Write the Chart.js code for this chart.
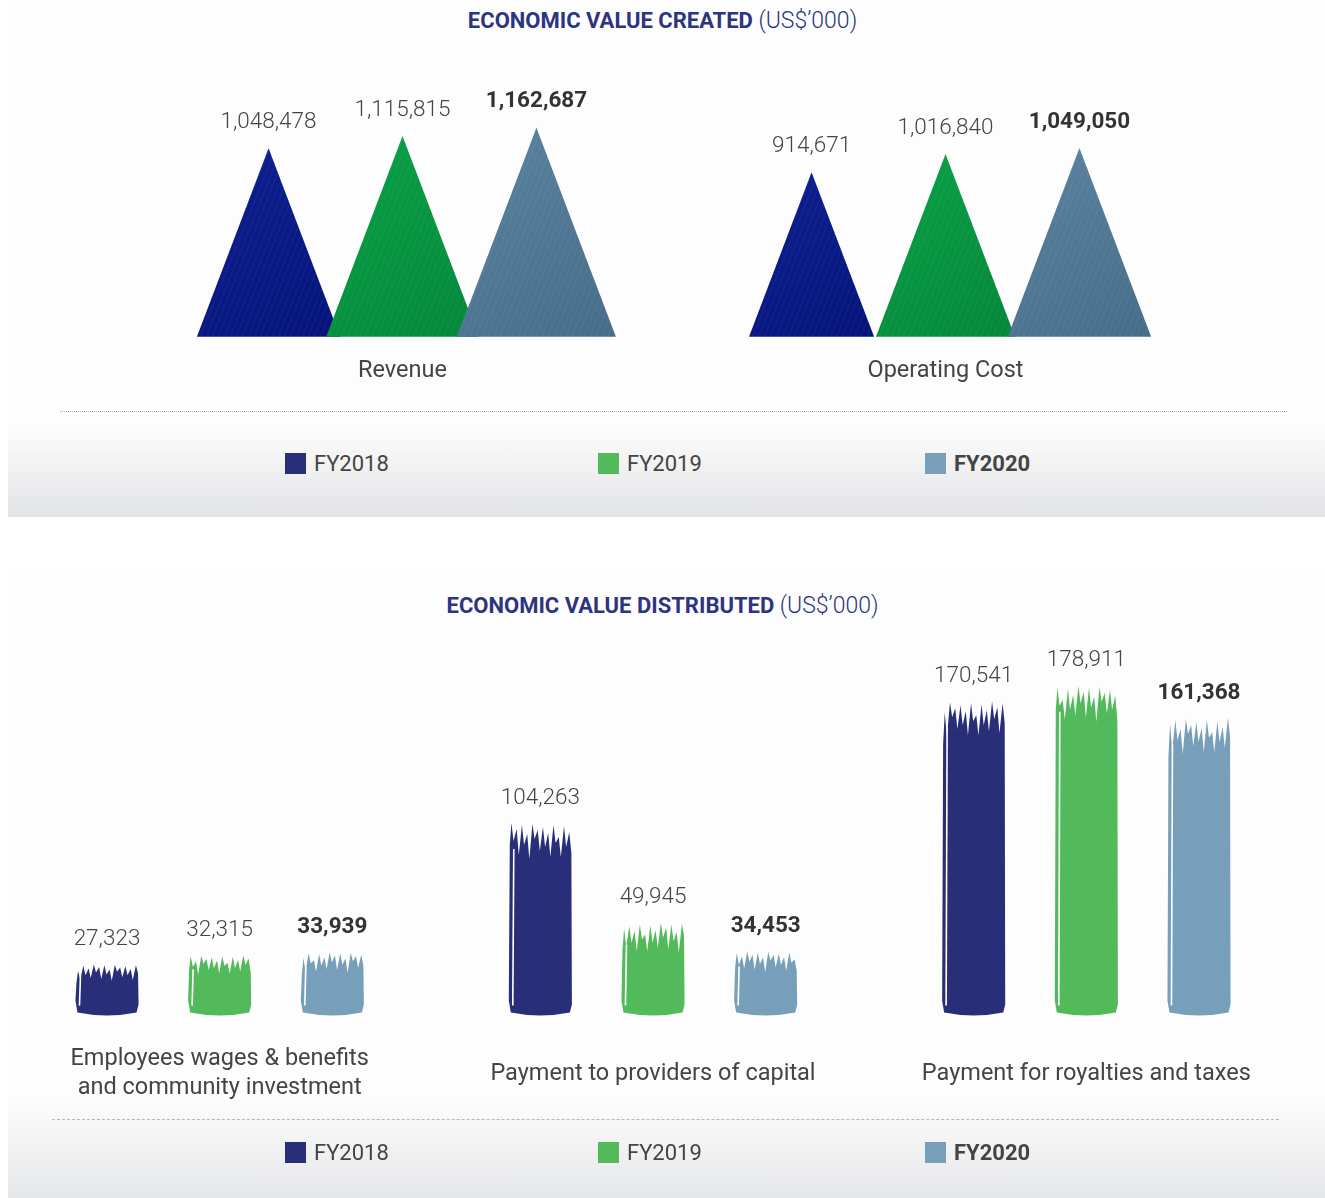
<!DOCTYPE html>
<html>
<head>
<meta charset="utf-8">
<script src="https://cdn.jsdelivr.net/npm/chart.js@4"></script>
<style>
  body { margin: 0; width: 1325px; height: 1198px; position: relative; background: #fff; font-family: Roboto, 'Noto Sans', sans-serif; overflow: hidden; }
  .panel { position: absolute; left: 8px; width: 1317px; }
  #panel-top { top: 0; height: 517px; background: linear-gradient(to bottom, #fdfdfd 0px, #fdfdfd 425px, #e2e3e5 517px); }
  #panel-bottom { top: 569px; height: 629px; background: linear-gradient(to bottom, #fdfdfd 0px, #fdfdfd 530px, #e5e6e8 629px); }
  .title { position: absolute; left: 0; width: 1325px; text-align: center; font-size: 22px; line-height: 26px; color: #2d3480; }
  .title b { font-weight: 700; }
  .title span { font-weight: 300; font-size: 23px; }
  .chart-box { position: absolute; left: 0; width: 1325px; }
  .rule { position: absolute; height: 0; }
  .legend { position: absolute; left: 0; width: 1325px; height: 26px; }
  .legend .item { position: absolute; top: 0; height: 26px; display: flex; align-items: center; font-size: 22px; color: #444; }
  .legend .swatch { width: 21px; height: 21px; margin-right: 8px; }
</style>
</head>
<body>
<div class="panel" id="panel-top"></div>
<div class="panel" id="panel-bottom"></div>

<div class="title" style="top:8px"><b>ECONOMIC VALUE CREATED</b> <span>(US$’000)</span></div>
<div class="rule" style="left:60px;width:1227px;top:411px;border-top:1px dotted #a3aab3"></div>
<div class="chart-box" style="top:40px;height:382px"><canvas id="created"></canvas></div>
<div class="legend" id="legend-created" style="top:450px"></div>

<div class="title" style="top:593px"><b>ECONOMIC VALUE DISTRIBUTED</b> <span>(US$’000)</span></div>
<div class="rule" style="left:52px;width:1227px;top:1119px;border-top:1px dashed #b8b8b8"></div>
<div class="chart-box" style="top:620px;height:541px"><canvas id="distributed"></canvas></div>
<div class="legend" id="legend-distributed" style="top:1139px"></div>

<script>
// series
const years = ['FY2018', 'FY2019', 'FY2020'];
const legendColors = ['#292e79', '#52ba5a', '#789fba'];
const triangleColors = [['#0f2192', '#05137a'], ['#0ba247', '#03873a'], ['#5b84a1', '#466d88']];

const createdCategories = ['Revenue', 'Operating Cost'];
const created2018 = [1048478, 914671];
const created2019 = [1115815, 1016840];
const created2020 = [1162687, 1049050];

const distributedCategories = [['Employees wages & benefits', 'and community investment'], 'Payment to providers of capital', 'Payment for royalties and taxes'];
const distributed2018 = [27323, 104263, 170541];
const distributed2019 = [32315, 49945, 178911];
const distributed2020 = [33939, 34453, 161368];

const legendX = [285, 598, 925];

// ragged top edge of the paint strokes (px below the bar top)
const tips = [14, 3, 9, 0, 6, 2, 11, 1, 7, 4, 10, 2];
const valleys = [34, 24, 30, 18, 32, 22, 36, 16, 28, 24, 34, 20];

const fmt = v => v.toLocaleString('en-US');

// value above every bar, last year in bold
const valueLabels = {
  id: 'valueLabels',
  afterDraw(chart, args, opts) {
    const ctx = chart.ctx;
    const last = chart.data.datasets.length - 1;
    ctx.save();
    ctx.textAlign = 'center';
    ctx.textBaseline = 'middle';
    chart.data.datasets.forEach((ds, i) => {
      ctx.font = (i === last ? '700' : '300') + ' 22.5px Roboto';
      ctx.fillStyle = i === last ? '#333' : '#454545';
      chart.getDatasetMeta(i).data.forEach((bar, j) => {
        ctx.fillText(fmt(ds.data[j]), bar.x, bar.y - opts.gap);
      });
    });
    ctx.restore();
  }
};

// bars become overlapping triangles
const triangles = {
  id: 'triangles',
  beforeDatasetsDraw(chart, args, opts) {
    const ctx = chart.ctx;
    chart.data.datasets.forEach((ds, i) => {
      const [c1, c2] = triangleColors[i];
      chart.getDatasetMeta(i).data.forEach(bar => {
        const h = bar.base - bar.y;
        const half = h * opts.slope;
        ctx.save();
        ctx.beginPath();
        ctx.moveTo(bar.x - half, bar.base);
        ctx.lineTo(bar.x, bar.y);
        ctx.lineTo(bar.x + half, bar.base);
        ctx.closePath();
        const g = ctx.createLinearGradient(bar.x - half, bar.y, bar.x + half, bar.base);
        g.addColorStop(0, c1);
        g.addColorStop(1, c2);
        ctx.fillStyle = g;
        ctx.fill();
        ctx.clip();
        ctx.strokeStyle = 'rgba(255,255,255,0.05)';
        ctx.lineWidth = 1.2;
        for (let k = -h; k < 2 * half; k += 6) {
          ctx.beginPath();
          ctx.moveTo(bar.x - half + k, bar.base);
          ctx.lineTo(bar.x - half + k + h * 0.4, bar.y);
          ctx.stroke();
        }
        ctx.restore();
      });
    });
    return false;
  }
};

// bars become paint strokes
const brushes = {
  id: 'brushes',
  beforeDatasetsDraw(chart) {
    const ctx = chart.ctx;
    const n = tips.length;
    chart.data.datasets.forEach((ds, i) => {
      chart.getDatasetMeta(i).data.forEach((bar, j) => {
        const L = bar.x - bar.width / 2, R = bar.x + bar.width / 2;
        const T = bar.y, B = bar.base;
        const w = R - L;
        const s = Math.min(1, (B - T) / 110);
        const shift = (i * 5 + j * 3) % n;
        ctx.save();
        ctx.fillStyle = ds.backgroundColor;
        ctx.beginPath();
        ctx.moveTo(L + 2, B - 2);
        ctx.lineTo(L, B - 14);
        ctx.lineTo(L + 1, T + valleys[shift] * s * 1.2);
        for (let k = 0; k < n; k++) {
          const t = tips[(k + shift) % n], v = valleys[(k + shift) % n];
          ctx.lineTo(L + w * (k + 0.5) / n, T + t * s);
          ctx.lineTo(L + w * (k + 1) / n - 0.5, T + v * s);
        }
        ctx.lineTo(R, B - 10);
        ctx.lineTo(R - 2, B - 2);
        ctx.quadraticCurveTo(bar.x, B + 4, L + 2, B - 2);
        ctx.closePath();
        ctx.fill();
        ctx.strokeStyle = '#fff';
        ctx.lineWidth = 1.6;
        ctx.beginPath();
        ctx.moveTo(L + 5, T + 26 * s);
        ctx.lineTo(L + 4, B - 9);
        ctx.stroke();
        ctx.restore();
      });
    });
    return false;
  }
};

function datasets(series) {
  return series.map((data, i) => ({ label: years[i], data, backgroundColor: legendColors[i] }));
}

const tickFont = { family: 'Roboto', size: 23.5 };

new Chart(document.getElementById('created'), {
  type: 'bar',
  data: { labels: createdCategories, datasets: datasets([created2018, created2019, created2020]) },
  options: {
    responsive: true,
    maintainAspectRatio: false,
    animation: false,
    layout: { padding: { left: 131, right: 108, top: 0, bottom: 17 } },
    datasets: { bar: { categoryPercentage: 0.74, barPercentage: 0.9 } },
    scales: {
      x: { grid: { display: false, drawTicks: false }, border: { display: false }, ticks: { font: tickFont, color: '#444', padding: 20 } },
      y: { display: false, min: 0, max: 1650000 }
    },
    plugins: { legend: { display: false }, tooltip: { enabled: false }, triangles: { slope: 0.38 }, valueLabels: { gap: 26 } }
  },
  plugins: [triangles, valueLabels]
});

new Chart(document.getElementById('distributed'), {
  type: 'bar',
  data: { labels: distributedCategories, datasets: datasets([distributed2018, distributed2019, distributed2020]) },
  options: {
    responsive: true,
    maintainAspectRatio: false,
    animation: false,
    layout: { padding: { left: 3, right: 22, top: 27, bottom: 0 } },
    datasets: { bar: { categoryPercentage: 0.78, barPercentage: 0.56 } },
    scales: {
      x: { grid: { display: false, drawTicks: false }, border: { display: false }, ticks: { font: tickFont, color: '#444', padding: 45, crossAlign: 'center' } },
      y: { display: false, min: 0, max: 200000 }
    },
    plugins: { legend: { display: false }, tooltip: { enabled: false }, valueLabels: { gap: 25 } }
  },
  plugins: [brushes, valueLabels]
});

// legends
['legend-created', 'legend-distributed'].forEach(id => {
  const el = document.getElementById(id);
  years.forEach((y, i) => {
    const item = document.createElement('div');
    item.className = 'item';
    item.style.left = legendX[i] + 'px';
    if (i === years.length - 1) item.style.fontWeight = '700';
    item.innerHTML = '<div class="swatch" style="background:' + legendColors[i] + '"></div>' + y;
    el.appendChild(item);
  });
});
</script>
</body>
</html>
